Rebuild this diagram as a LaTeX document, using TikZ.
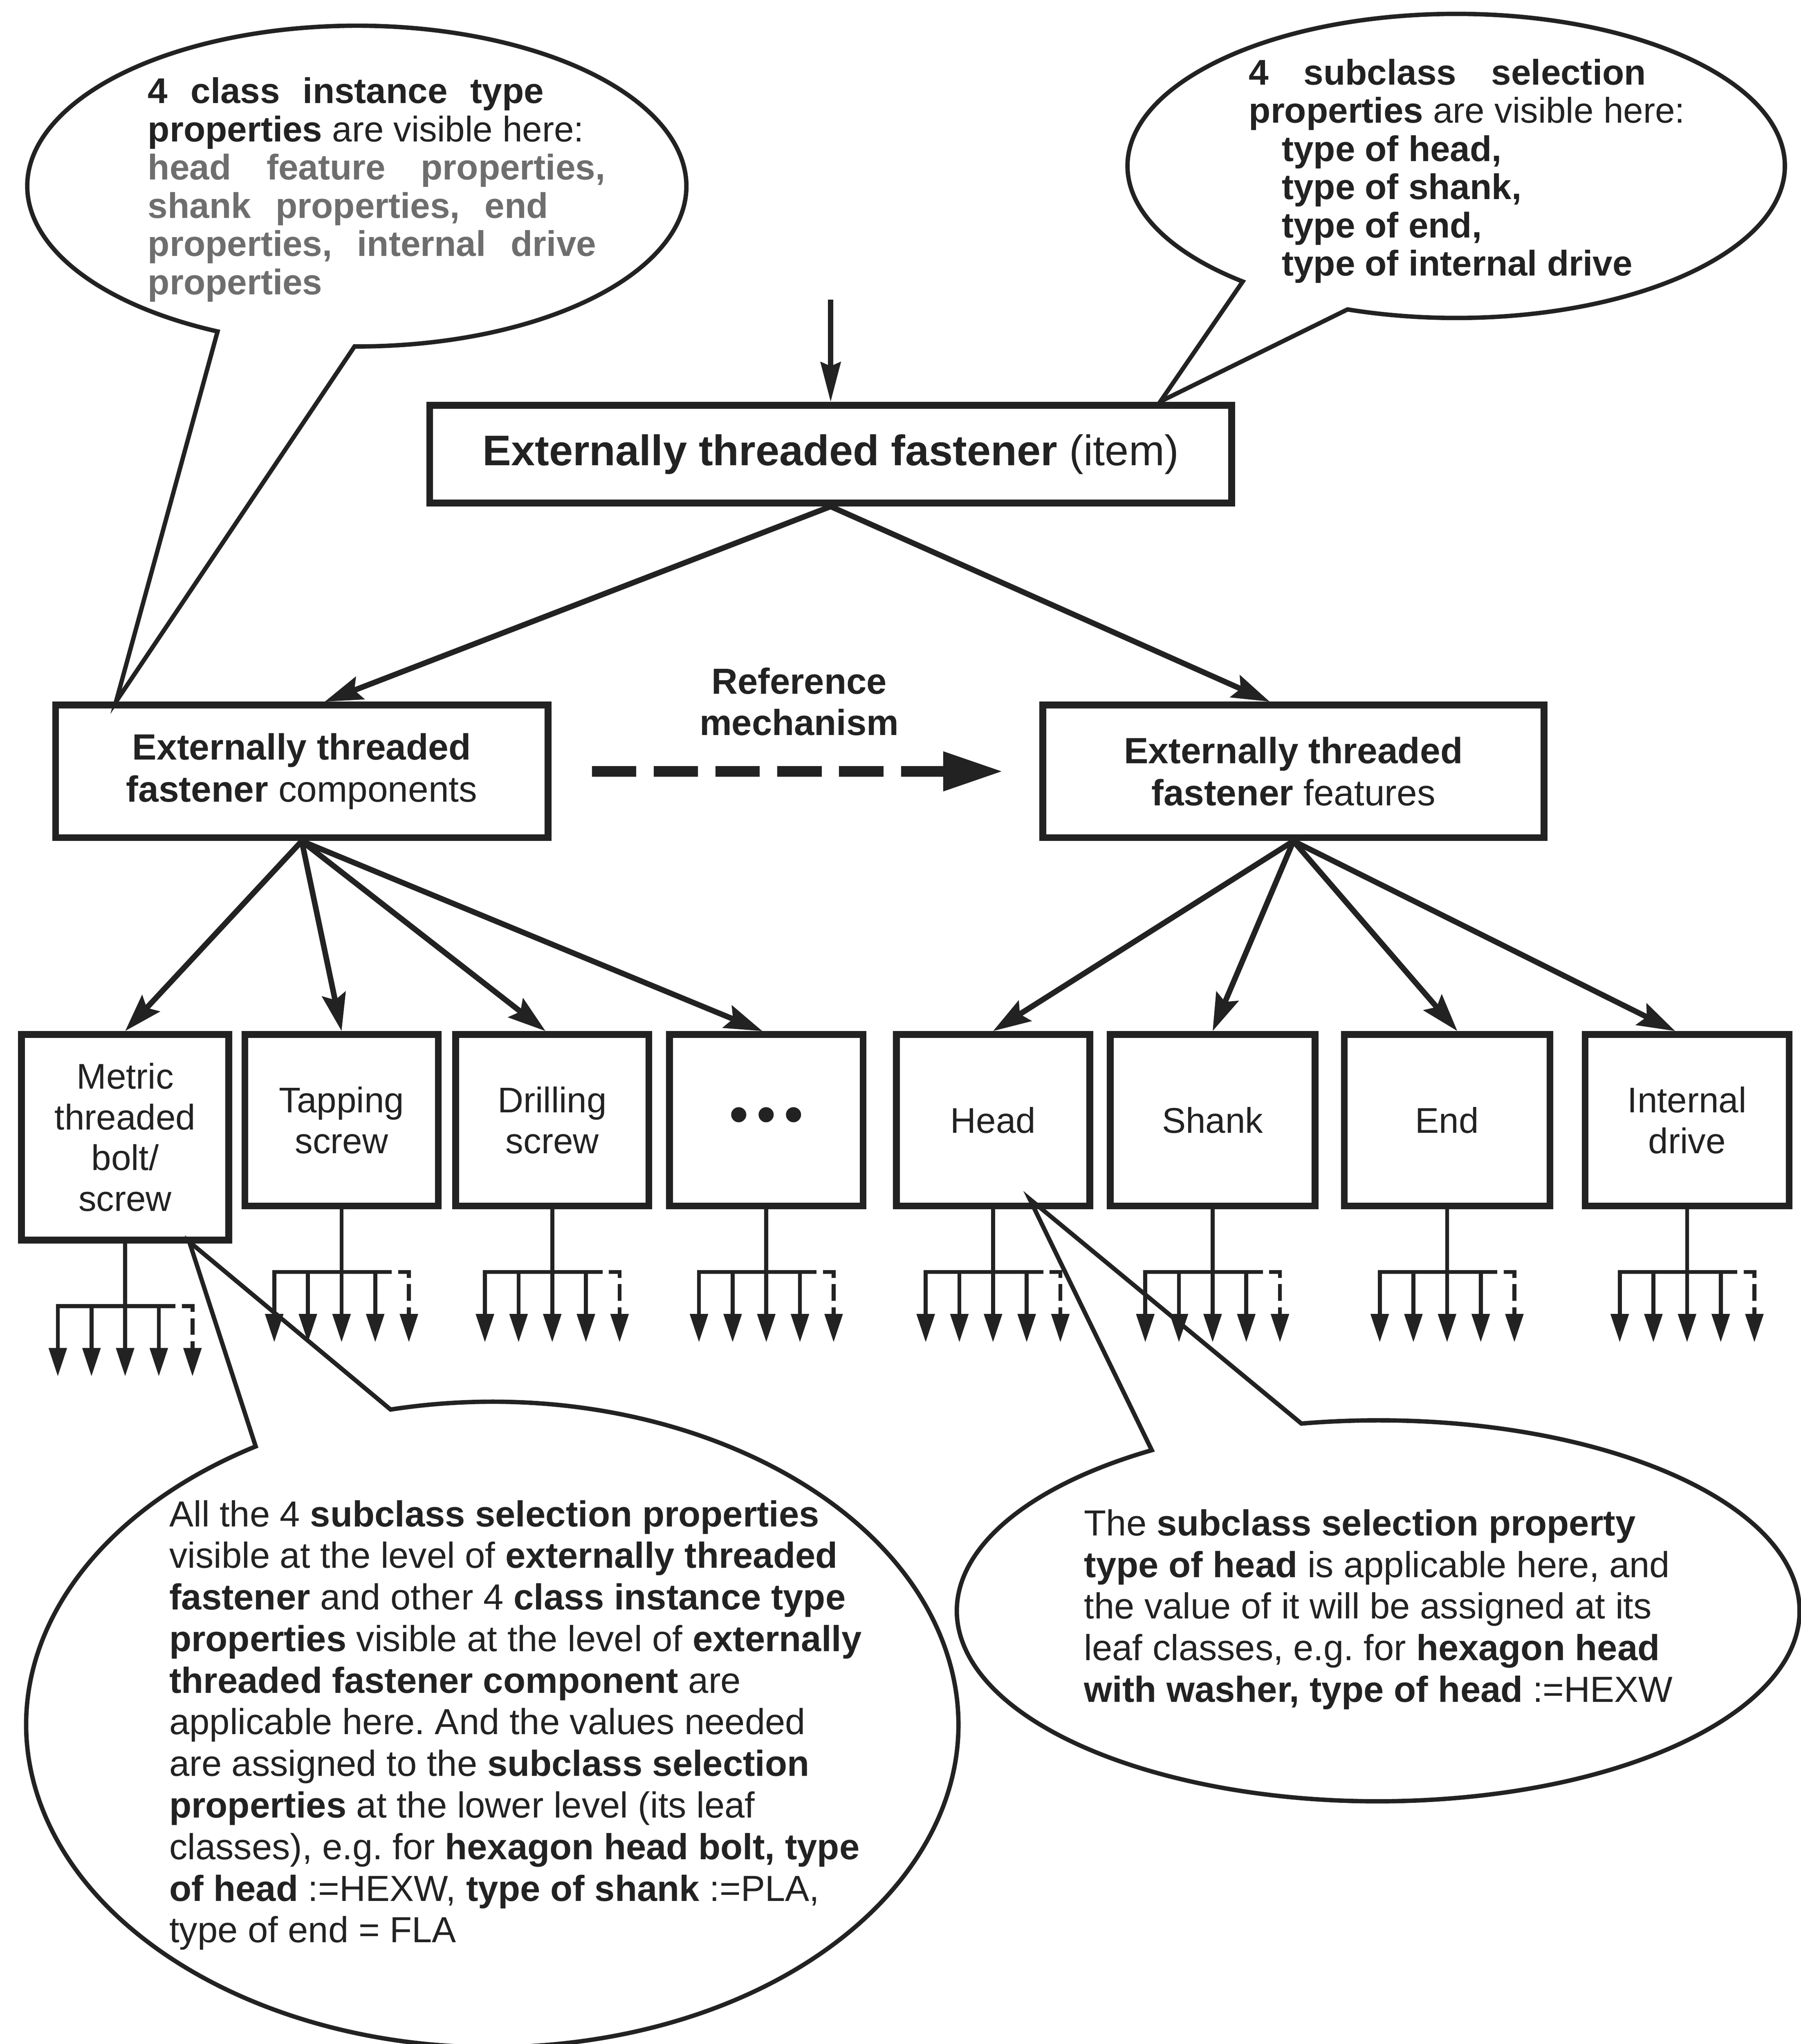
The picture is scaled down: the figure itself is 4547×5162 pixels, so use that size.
\documentclass[tikz,border=0pt]{standalone}
\usepackage{fontspec}
\setmainfont{Liberation Sans}
\usetikzlibrary{arrows.meta,calc}
\definecolor{ink}{HTML}{222222}
\definecolor{greytext}{HTML}{6E6E6E}
\newcommand\fntMain{\fontsize{30.7pt}{36pt}\selectfont}
\newcommand\fntTopC{\fontsize{25.6pt}{27.46pt}\selectfont}
\newcommand\fntBotC{\fontsize{26pt}{29.88pt}\selectfont}
\newcommand\fntBox{\fontsize{26.2pt}{30.16pt}\selectfont}
\newcommand\fntLeaf{\fontsize{25.6pt}{29.3pt}\selectfont}
\newcommand\fntDots{\fontsize{40pt}{40pt}\selectfont}
\newcommand\leafFan[1]{%
  \coordinate (#1-b) at ($(#1.south)+(0,158)$);
  \draw[fanl] (#1.south) -- (#1-b);
  \draw[fanarrow] ($(#1-b)+(85,0)$) -- ($(#1-b)+(-170,0)$) -- ++(0,178);
  \draw[fanarrow] ($(#1-b)+(-85,0)$) -- ++(0,178);
  \draw[fanarrow] (#1-b) -- ++(0,178);
  \draw[fanarrow] ($(#1-b)+(85,0)$) -- ++(0,178);
  \draw[fanarrow,dash pattern=on 0.42cm off 0.16cm] ($(#1-b)+(85,0)$) -- ++(85,0) -- ++(0,178);
}
\begin{document}
\frenchspacing
\begin{tikzpicture}[x=0.01cm,y=-0.01cm,color=ink,
  box/.style={draw,line width=0.17cm,inner sep=0pt,align=center},
  conn/.style={line width=0.14cm,-{Stealth[length=0.95cm,width=0.6cm,inset=0.15cm]}},
  callout/.style={line width=0.11cm,line join=miter},
  fanl/.style={line width=0.1cm},
  fanarrow/.style={fanl,-{Triangle[length=0.72cm,width=0.44cm]}},
  txt/.style={anchor=base west,inner sep=0pt}]
\fill[white] (0,0) rectangle (4547,5162);
\useasboundingbox (0,0) rectangle (4547,5162);

% ---------- callout outlines ----------
\draw[callout] (293,1772) -- ($(901,470)+(115:832 and 405)$)
  arc[start angle=115,end angle=450.4,x radius=832,y radius=405] -- cycle;
\draw[callout] (2930,1014) -- ($(3677,419)+(130.5:830 and 384)$)
  arc[start angle=130.5,end angle=469.3,x radius=830,y radius=384] -- cycle;
\draw[callout] (478,3136) -- ($(1243,4355)+(257.4:1177 and 815)$)
  arc[start angle=257.4,end angle=599.5,x radius=1177,y radius=815] -- cycle;
\draw[callout] (2600,3028) -- ($(3480,4068)+(259.5:1064 and 481)$)
  arc[start angle=259.5,end angle=597.5,x radius=1064,y radius=481] -- cycle;

% ---------- boxes ----------
\node[box,font=\fntMain,minimum width=20.24cm,minimum height=2.47cm] (top) at (2097.5,1147)
  {\textbf{Externally threaded fastener} (item)};
\node[box,font=\fntBox,minimum width=12.43cm,minimum height=3.35cm] (comp) at (762,1948)
  {\textbf{Externally threaded}\\\textbf{fastener} components};
\node[box,font=\fntBox,minimum width=12.65cm,minimum height=3.35cm] (feat) at (3266,1948)
  {\textbf{Externally threaded}\\\textbf{fastener} features};

\node[box,font=\fntLeaf,minimum width=5.23cm,minimum height=5.19cm] (metric) at (316,2872)
  {Metric\\threaded\\bolt/\\screw};
\node[box,font=\fntLeaf,minimum width=4.88cm,minimum height=4.33cm] (tap) at (862.5,2829)
  {Tapping\\screw};
\node[box,font=\fntLeaf,minimum width=4.88cm,minimum height=4.33cm] (drill) at (1394.5,2829)
  {Drilling\\screw};
\node[box,font=\fntDots,minimum width=4.89cm,minimum height=4.33cm] (dots) at (1935,2829)
  {\raisebox{-0.1cm}{\textbullet\hspace{0.2cm}\textbullet\hspace{0.2cm}\textbullet}};
\node[box,font=\fntLeaf,minimum width=4.88cm,minimum height=4.33cm] (head) at (2507.5,2829)
  {Head};
\node[box,font=\fntLeaf,minimum width=5.17cm,minimum height=4.33cm] (shank) at (3062,2829)
  {Shank};
\node[box,font=\fntLeaf,minimum width=5.19cm,minimum height=4.33cm] (endf) at (3654,2829)
  {End};
\node[box,font=\fntLeaf,minimum width=5.15cm,minimum height=4.33cm] (intd) at (4260,2829)
  {Internal\\drive};

% ---------- connectors ----------
\coordinate (in) at (2097.5,757);
\draw[line width=0.13cm,-{Stealth[length=1cm,width=0.5cm,inset=0.1cm]}] (in) -- (top.north);
\draw[conn] (top.south) -- ($(comp.north)+(58,0)$);
\draw[conn] (top.south) -- ($(feat.north)+(-60,0)$);

\draw[line width=0.27cm,dash pattern=on 1.12cm off 0.44cm,
  -{Triangle[length=1.52cm,width=0.93cm]},shorten <=1.02cm,shorten >=0.91cm]
  (comp.east) -- (feat.west);
\node[anchor=base,inner sep=0pt,font=\fntBotC\bfseries] (refm) at (2018,1752)
  {\begin{tabular}[t]{@{}c@{}}Reference\\mechanism\end{tabular}};

\draw[conn] (comp.south) -- (metric.north);
\draw[conn] (comp.south) -- (tap.north);
\draw[conn] (comp.south) -- ($(drill.north)+(-17,0)$);
\draw[conn] (comp.south) -- ($(dots.north)+(-10,0)$);
\draw[conn] (feat.south) -- (head.north);
\draw[conn] (feat.south) -- (shank.north);
\draw[conn] (feat.south) -- ($(endf.north)+(26,0)$);
\draw[conn] (feat.south) -- ($(intd.north)+(-30,0)$);

\leafFan{metric}
\leafFan{tap}
\leafFan{drill}
\leafFan{dots}
\leafFan{head}
\leafFan{shank}
\leafFan{endf}
\leafFan{intd}

% ---------- callout texts ----------
\node[txt,font=\fntTopC] (tltext) at (373,261) {\parbox[t]{13cm}{%
\makebox[9.99cm][s]{\textbf{4 class instance type}}\\
\textbf{properties} are visible here:\\
\color{greytext}\bfseries\makebox[11.54cm][s]{head feature properties,}\\
\makebox[10.10cm][s]{shank properties, end}\\
\makebox[11.31cm][s]{properties, internal drive}\\
properties}};

\node[txt,font=\fntTopC] (trtext) at (3153,214) {\parbox[t]{13cm}{\bfseries
\makebox[10.02cm][s]{4 subclass selection}\\
properties {\mdseries are visible here:}\\
\hspace*{0.83cm}type of head,\\
\hspace*{0.83cm}type of shank,\\
\hspace*{0.83cm}type of end,\\
\hspace*{0.83cm}type of internal drive}};

\node[txt,font=\fntBotC] (bltext) at (427,3855) {\parbox[t]{20cm}{%
All the 4 \textbf{subclass selection properties}\\
visible at the level of \textbf{externally threaded}\\
\textbf{fastener} and other 4 \textbf{class instance type}\\
\textbf{properties} visible at the level of \textbf{externally}\\
\textbf{threaded fastener component} are\\
applicable here. And the values needed\\
are assigned to the \textbf{subclass selection}\\
\textbf{properties} at the lower level (its leaf\\
classes), e.g. for \textbf{hexagon head bolt, type}\\
\textbf{of head} :=HEXW, \textbf{type of shank} :=PLA,\\
type of end = FLA}};

\node[txt,font=\fntBotC] (brtext) at (2737,3878) {\parbox[t]{18cm}{%
The \textbf{subclass selection property}\\
\textbf{type of head} is applicable here, and\\
the value of it will be assigned at its\\
leaf classes, e.g. for \textbf{hexagon head}\\
\textbf{with washer, type of head} :=HEXW}};
\end{tikzpicture}
\end{document}
